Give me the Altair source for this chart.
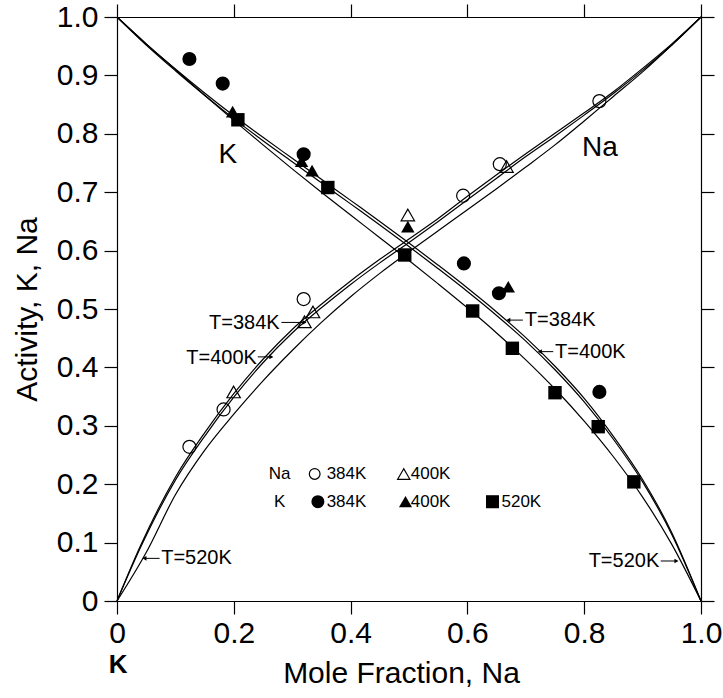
import altair as alt
import pandas as pd

FONT = "Liberation Sans"

# ---- model curves: activity vs. mole fraction of Na ----
grid_x = [0, 0.05, 0.10, 0.15, 0.20, 0.25, 0.30, 0.35, 0.40, 0.45, 0.50,
          0.55, 0.60, 0.65, 0.70, 0.75, 0.80, 0.85, 0.90, 0.95, 1.0]

na_x = [0, 0.04, 0.10, 0.15, 0.20, 0.25, 0.30, 0.35, 0.40, 0.45, 0.50,
        0.55, 0.60, 0.65, 0.70, 0.75, 0.80, 0.85, 0.90, 0.95, 1.0]
na_a_384 = [0, 0.094, 0.212, 0.288, 0.355, 0.414, 0.465, 0.508, 0.548, 0.585, 0.620,
            0.655, 0.693, 0.730, 0.766, 0.801, 0.836, 0.872, 0.912, 0.954, 1.0]
na_a_400 = [0, 0.091, 0.207, 0.282, 0.349, 0.408, 0.459, 0.502, 0.542, 0.579, 0.614,
            0.650, 0.687, 0.724, 0.761, 0.796, 0.832, 0.869, 0.909, 0.952, 1.0]
na_a_520 = [0, 0.083, 0.182, 0.258, 0.320, 0.377, 0.429, 0.477, 0.521, 0.561, 0.598,
            0.634, 0.670, 0.706, 0.743, 0.781, 0.822, 0.864, 0.906, 0.952, 1.0]

k_a_384 = [1.0, 0.954, 0.911, 0.870, 0.831, 0.794, 0.758, 0.722, 0.686, 0.650, 0.613,
           0.575, 0.536, 0.495, 0.451, 0.402, 0.347, 0.282, 0.208, 0.117, 0]
k_a_400 = [1.0, 0.952, 0.908, 0.866, 0.826, 0.788, 0.752, 0.716, 0.680, 0.644, 0.607,
           0.569, 0.530, 0.489, 0.445, 0.396, 0.341, 0.277, 0.204, 0.114, 0]
k_a_520 = [1.0, 0.954, 0.910, 0.866, 0.823, 0.781, 0.740, 0.700, 0.661, 0.622, 0.583,
           0.543, 0.502, 0.459, 0.413, 0.363, 0.308, 0.247, 0.178, 0.097, 0]

# ---- measured activities ----
na384_x = [0.124, 0.1825, 0.3196, 0.5927, 0.6555, 0.826]
na384_a = [0.264, 0.328, 0.517, 0.694, 0.748, 0.856]
na400_x = [0.1997, 0.321, 0.3356, 0.498, 0.667]
na400_a = [0.358, 0.478, 0.495, 0.661, 0.744]
k384_x = [0.124, 0.181, 0.3196, 0.594, 0.654, 0.826]
k384_a = [0.928, 0.886, 0.765, 0.578, 0.527, 0.358]
k400_x = [0.198, 0.316, 0.334, 0.498, 0.67]
k400_a = [0.838, 0.753, 0.737, 0.641, 0.538]
k520_x = [0.207, 0.361, 0.4927, 0.609, 0.677, 0.75, 0.824, 0.885]
k520_a = [0.824, 0.708, 0.5925, 0.4966, 0.4327, 0.3567, 0.2985, 0.204]

x_ticks = [0, 0.2, 0.4, 0.6, 0.8, 1.0]
y_ticks = [0, 0.1, 0.2, 0.3, 0.4, 0.5, 0.6, 0.7, 0.8, 0.9, 1.0]


def curve(name, xs, ys):
    return pd.DataFrame({"x": xs, "a": ys, "curve": name})


curves = pd.concat([
    curve("Na 384K", na_x, na_a_384),
    curve("Na 400K", na_x, na_a_400),
    curve("Na 520K", grid_x, na_a_520),
    curve("K 384K", grid_x, k_a_384),
    curve("K 400K", grid_x, k_a_400),
    curve("K 520K", grid_x, k_a_520),
])

xs = alt.Scale(domain=[0, 1], nice=False, zero=False)
ys = alt.Scale(domain=[0, 1], nice=False, zero=False)
label_expr = "datum.value == 0 ? '0' : format(datum.value, '.1f')"


def X(axis=None):
    return alt.X("x:Q", scale=xs, axis=axis)


def Y(axis=None):
    return alt.Y("a:Q", scale=ys, axis=axis)


axis_style = dict(
    tickSize=13, tickWidth=1.2, tickColor="black",
    domainColor="black", domainWidth=1.2, grid=False,
    labelFont=FONT, labelFontSize=30, labelColor="black",
    titleFont=FONT, titleFontSize=30, titleFontWeight="normal", titleColor="black",
)

bottom_axis = alt.Axis(orient="bottom", values=x_ticks, labelExpr=label_expr,
                       title="Mole Fraction, Na", labelPadding=4, titlePadding=10,
                       titleX=284, titleAlign="center",
                       labelFlush=False, **axis_style)
left_axis = alt.Axis(orient="left", values=y_ticks, labelExpr=label_expr,
                     title="Activity, K, Na", labelPadding=6, titlePadding=14, **axis_style)
top_axis = alt.Axis(orient="top", values=x_ticks, labels=False, title=None, **axis_style)
right_axis = alt.Axis(orient="right", values=y_ticks, labels=False, title=None, **axis_style)

lines = alt.Chart(curves).mark_line(color="black", strokeWidth=1.2, interpolate="monotone").encode(
    x=X(bottom_axis), y=Y(left_axis), detail="curve:N"
)
frame = alt.Chart(curves).mark_line(opacity=0).encode(
    x=X(top_axis), y=Y(right_axis), detail="curve:N"
)


def pts(xv, av, shape, filled, size):
    df = pd.DataFrame({"x": xv, "a": av})
    return alt.Chart(df).mark_point(
        shape=shape, filled=filled, size=size, color="black",
        strokeWidth=1.2, opacity=1,
    ).encode(x=X(), y=Y())


markers = [
    pts(na384_x, na384_a, "circle", False, 170),
    pts(na400_x, na400_a, "triangle-up", False, 180),
    pts(k384_x, k384_a, "circle", True, 200),
    pts(k400_x, k400_a, "triangle-up", True, 180),
    pts(k520_x, k520_a, "square", True, 180),
]

# ---- legend block inside the plot ----
leg_names = pd.DataFrame({"x": [0.2785, 0.2785], "a": [0.2175, 0.170], "t": ["Na", "K"]})
leg_names_layer = alt.Chart(leg_names).mark_text(
    font=FONT, fontSize=17, align="center", baseline="middle", color="black"
).encode(x=X(), y=Y(), text="t:N")

leg_labels = pd.DataFrame({
    "x": [0.359, 0.503, 0.359, 0.503, 0.6584],
    "a": [0.2175, 0.2175, 0.170, 0.170, 0.170],
    "t": ["384K", "400K", "384K", "400K", "520K"],
})
leg_labels_layer = alt.Chart(leg_labels).mark_text(
    font=FONT, fontSize=17, align="left", baseline="middle", color="black"
).encode(x=X(), y=Y(), text="t:N")

leg_symbols = [
    pts([0.3385], [0.2175], "circle", False, 115),
    pts([0.491], [0.2175], "triangle-up", False, 150),
    pts([0.344], [0.170], "circle", True, 170),
    pts([0.494], [0.170], "triangle-up", True, 170),
    pts([0.643], [0.170], "square", True, 170),
]

# ---- curve labels ----
big_labels = pd.DataFrame({"x": [0.19, 0.827], "a": [0.764, 0.775], "t": ["K", "Na"]})
big_layer = alt.Chart(big_labels).mark_text(
    font=FONT, fontSize=28, align="center", baseline="middle", color="black"
).encode(x=X(), y=Y(), text="t:N")

corner = pd.DataFrame({"x": [0.002], "a": [-0.11], "t": ["K"]})
corner_layer = alt.Chart(corner).mark_text(
    font=FONT, fontSize=26, fontWeight="bold", align="center", baseline="middle", color="black"
).encode(x=X(), y=Y(), text="t:N")

# temperature labels (text end / start) and their arrows
t_right_aligned = pd.DataFrame({
    "x": [0.2785, 0.2395, 0.9285],
    "a": [0.476, 0.4156, 0.0685],
    "t": ["T=384K", "T=400K", "T=520K"],
})
t_left_aligned = pd.DataFrame({
    "x": [0.0757, 0.6984, 0.75],
    "a": [0.073, 0.481, 0.427],
    "t": ["T=520K", "T=384K", "T=400K"],
})
t_r_layer = alt.Chart(t_right_aligned).mark_text(
    font=FONT, fontSize=20, align="right", baseline="middle", color="black"
).encode(x=X(), y=Y(), text="t:N")
t_l_layer = alt.Chart(t_left_aligned).mark_text(
    font=FONT, fontSize=20, align="left", baseline="middle", color="black"
).encode(x=X(), y=Y(), text="t:N")

# arrows: shaft from x to x2, head at x2
arrows_right = pd.DataFrame({
    "x": [0.2815, 0.241, 0.931],
    "x2": [0.321, 0.2643, 0.958],
    "a": [0.477, 0.418, 0.0685],
})
arrows_left = pd.DataFrame({
    "x": [0.073, 0.695, 0.747],
    "x2": [0.047, 0.670, 0.724],
    "a": [0.073, 0.481, 0.427],
})


def arrow_layers(df, head_shape):
    shaft = alt.Chart(df).mark_rule(color="black", strokeWidth=1).encode(
        x=X(), x2="x2:Q", y=Y()
    )
    head = alt.Chart(df).mark_point(
        shape=head_shape, filled=True, size=22, color="black", opacity=1
    ).encode(x=alt.X("x2:Q", scale=xs, axis=None), y=Y())
    return [shaft, head]


chart = alt.layer(
    frame,
    lines,
    *markers,
    leg_names_layer, leg_labels_layer, *leg_symbols,
    big_layer, corner_layer,
    t_r_layer, t_l_layer,
    *arrow_layers(arrows_right, "triangle-right"),
    *arrow_layers(arrows_left, "triangle-left"),
).resolve_axis(
    x="independent", y="independent"
).properties(
    width=584, height=584,
    autosize=alt.AutoSizeParams(type="none"),
    padding={"left": 117, "top": 17, "right": 22, "bottom": 97},
    background="white",
).configure_view(stroke=None)

chart.save("out.html", embed_options={"renderer": "svg", "actions": False})
